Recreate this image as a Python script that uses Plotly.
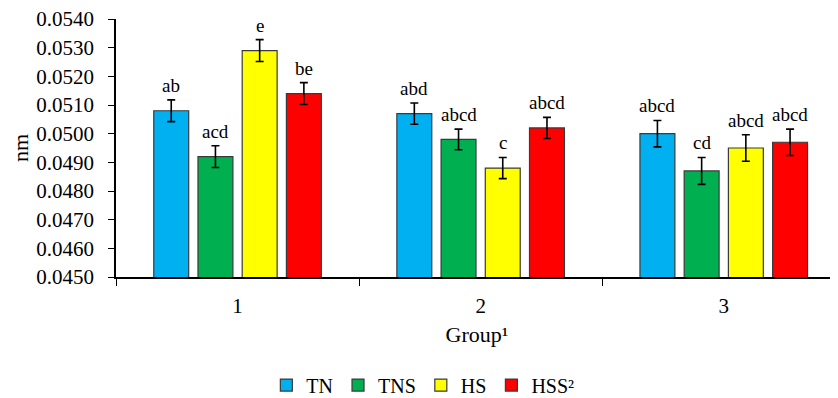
import plotly.graph_objects as go

groups = ["1", "2", "3"]
series_names = ["TN", "TNS", "HS", "HSS²"]
colors = ["#00B0F0", "#00B050", "#FFFF00", "#FF0000"]

tn = [0.0508, 0.0507, 0.0500]
tns = [0.0492, 0.0498, 0.0487]
hs = [0.0529, 0.0488, 0.0495]
hss = [0.0514, 0.0502, 0.0497]

tn_err = [0.00038, 0.00037, 0.00046]
tns_err = [0.00038, 0.00036, 0.00047]
hs_err = [0.00038, 0.00037, 0.00046]
hss_err = [0.00038, 0.00037, 0.00046]

tn_lbl = ["ab", "abd", "abcd"]
tns_lbl = ["acd", "abcd", "cd"]
hs_lbl = ["e", "c", "abcd"]
hss_lbl = ["be", "abcd", "abcd"]

values = [tn, tns, hs, hss]
errors = [tn_err, tns_err, hs_err, hss_err]
labels = [tn_lbl, tns_lbl, hs_lbl, hss_lbl]

FONT = "Times New Roman, Liberation Serif, serif"

fig = go.Figure()
for name, vals, errs, col in zip(series_names, values, errors, colors):
    fig.add_trace(go.Bar(
        name=name, x=groups, y=vals, base=0,
        marker=dict(color=col, line=dict(color="#3a3a3a", width=1.2)),
        error_y=dict(type="data", array=errs, visible=True,
                     color="black", thickness=1.6, width=4),
    ))

nser = len(series_names)
bargap = 0.2725
slot = (1 - bargap) / nser
for si, (vals, errs, lbls) in enumerate(zip(values, errors, labels)):
    for gi in range(len(groups)):
        xoff = -(1 - bargap) / 2 + slot * (si + 0.5)
        fig.add_annotation(
            x=gi + xoff, y=vals[gi] + errs[gi], xref="x", yref="y",
            text=lbls[gi], showarrow=False, yanchor="bottom", yshift=2,
            font=dict(family=FONT, size=19, color="black"),
        )

fig.update_layout(
    width=830, height=412,
    margin=dict(l=108, r=0, t=11, b=143),
    paper_bgcolor="white", plot_bgcolor="white",
    barmode="group", bargap=bargap, bargroupgap=0.21,
    font=dict(family=FONT, size=21, color="black"),
    showlegend=True,
    legend=dict(orientation="h", x=0.425, xanchor="center", y=-0.419, yanchor="middle",
                font=dict(family=FONT, size=20, color="black"),
                itemwidth=30, traceorder="normal"),
)
fig.update_xaxes(
    type="category", range=[-0.5, 2.47], automargin=False,
    showline=True, linecolor="black", linewidth=2,
    ticks="outside", tickson="boundaries", ticklen=7, tickcolor="black", tickwidth=1,
    showgrid=False, zeroline=False,
    tickfont=dict(family=FONT, size=21),
    ticklabelstandoff=9,
    title=dict(text="Group¹", font=dict(family=FONT, size=22), standoff=9),
)
fig.update_yaxes(
    range=[0.045, 0.054], dtick=0.001, tick0=0.045, tickformat=".4f", automargin=False,
    ticklabeloverflow="allow",
    showline=True, linecolor="black", linewidth=1.5,
    ticks="outside", ticklen=6, tickcolor="black", tickwidth=1,
    showgrid=False, zeroline=False,
    tickfont=dict(family=FONT, size=21),
    ticklabelstandoff=10,
    title=dict(text="nm", font=dict(family=FONT, size=22), standoff=2),
)

fig.write_html("out.html")
